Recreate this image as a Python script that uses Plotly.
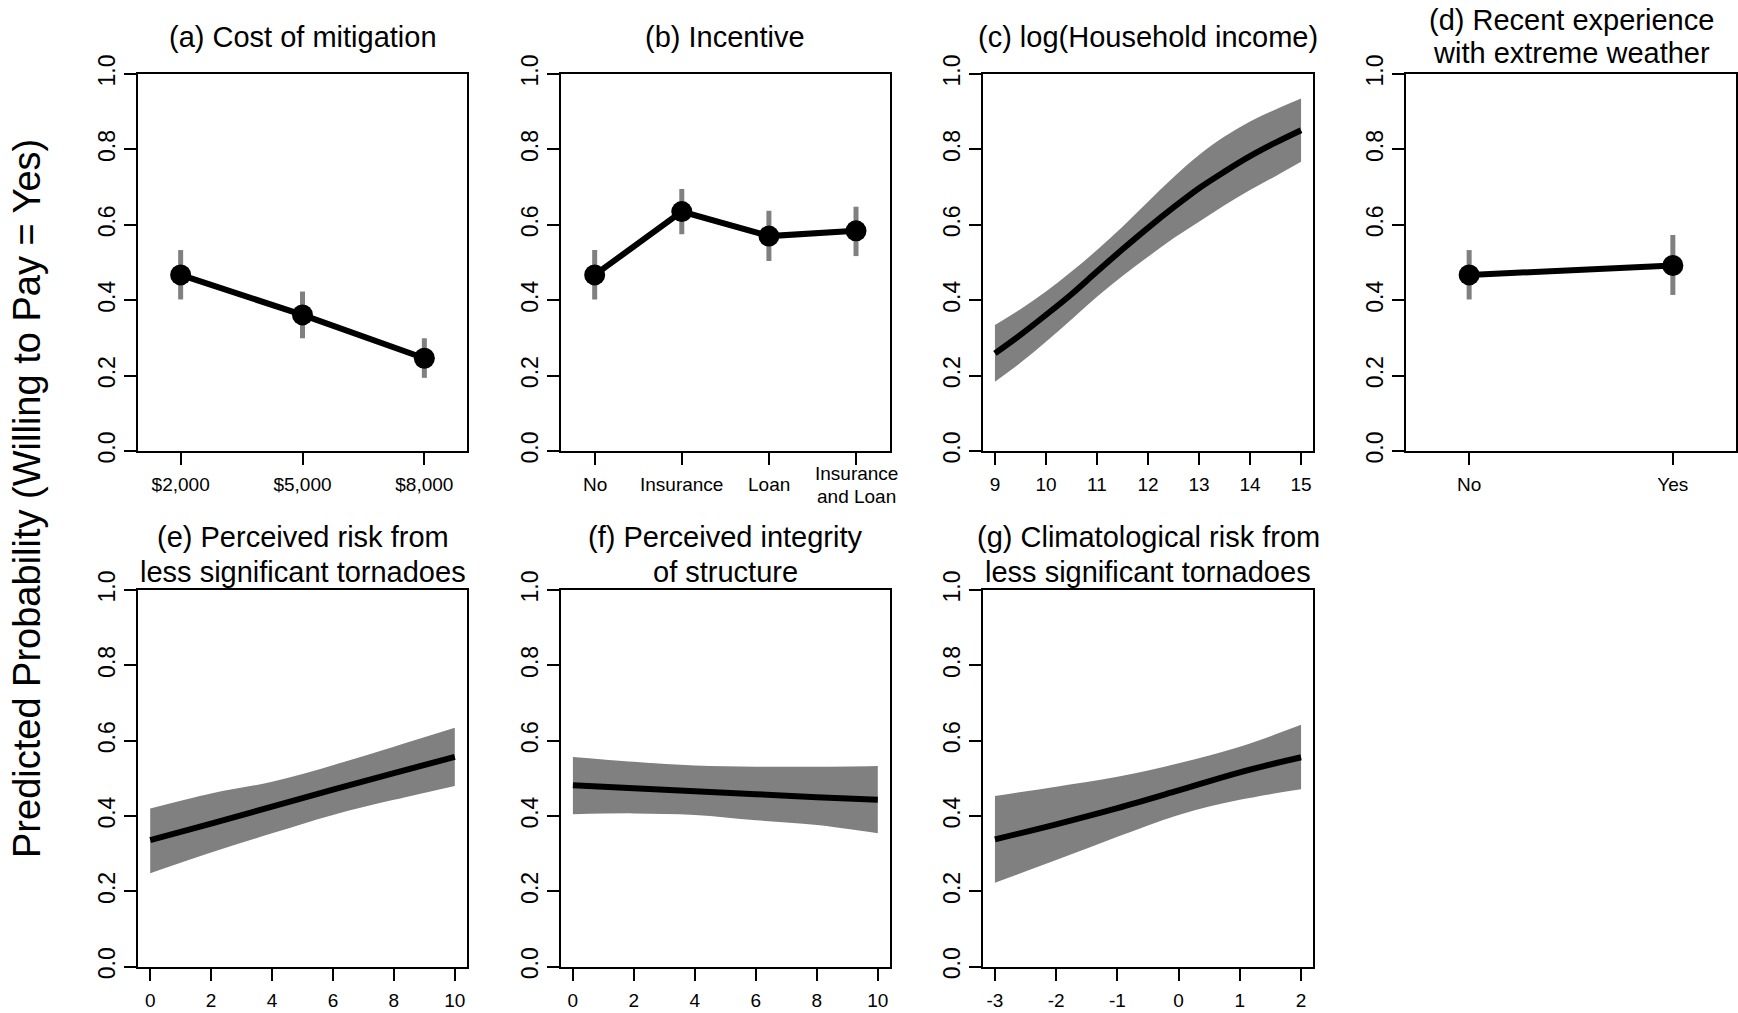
import plotly.graph_objects as go

W, H = 1738, 1013
FONT = "Liberation Sans, Arial, Helvetica, sans-serif"
GRAY = "#808080"

# ---------------- data ----------------
# (a) Cost of mitigation
a_labels = ["$2,000", "$5,000", "$8,000"]
a_est = [0.467, 0.361, 0.246]
a_lo = [0.402, 0.299, 0.194]
a_hi = [0.533, 0.423, 0.299]

# (b) Incentive
b_labels = [["No"], ["Insurance"], ["Loan"], ["Insurance", "and Loan"]]
b_est = [0.467, 0.635, 0.570, 0.584]
b_lo = [0.402, 0.575, 0.504, 0.517]
b_hi = [0.533, 0.695, 0.637, 0.648]

# (c) log(Household income)
c_x = [9, 9.5, 10, 10.5, 11, 11.5, 12, 12.5, 13, 13.5, 14, 14.5, 15]
c_est = [0.259, 0.308, 0.361, 0.416, 0.476, 0.535, 0.592, 0.646, 0.697, 0.741, 0.782, 0.818, 0.851]
c_hi = [0.334, 0.376, 0.423, 0.476, 0.533, 0.595, 0.661, 0.726, 0.785, 0.834, 0.874, 0.906, 0.935]
c_lo = [0.184, 0.234, 0.290, 0.349, 0.409, 0.464, 0.515, 0.564, 0.608, 0.652, 0.692, 0.729, 0.767]

# (d) Recent experience with extreme weather
d_labels = ["No", "Yes"]
d_est = [0.467, 0.492]
d_lo = [0.402, 0.414]
d_hi = [0.533, 0.573]

# (e) Perceived risk from less significant tornadoes
e_x = [0, 2, 4, 6, 8, 10]
e_est = [0.336, 0.380, 0.425, 0.470, 0.514, 0.557]
e_hi = [0.420, 0.460, 0.491, 0.535, 0.584, 0.634]
e_lo = [0.248, 0.303, 0.354, 0.403, 0.443, 0.480]

# (f) Perceived integrity of structure
f_x = [0, 2, 4, 6, 8, 10]
f_est = [0.482, 0.474, 0.466, 0.458, 0.450, 0.443]
f_hi = [0.557, 0.544, 0.534, 0.531, 0.531, 0.533]
f_lo = [0.405, 0.407, 0.403, 0.389, 0.376, 0.354]

# (g) Climatological risk from less significant tornadoes
g_x = [-3, -2, -1, 0, 1, 2]
g_labels = ["-3", "-2", "-1", "0", "1", "2"]
g_est = [0.338, 0.378, 0.421, 0.468, 0.516, 0.556]
g_hi = [0.453, 0.478, 0.504, 0.540, 0.584, 0.642]
g_lo = [0.223, 0.283, 0.345, 0.403, 0.443, 0.471]

titles = [
    ["(a) Cost of mitigation"],
    ["(b) Incentive"],
    ["(c) log(Household income)"],
    ["(d) Recent experience", "with extreme weather"],
    ["(e) Perceived risk from", "less significant tornadoes"],
    ["(f) Perceived integrity", "of structure"],
    ["(g) Climatological risk from", "less significant tornadoes"],
]
y_title = "Predicted Probability (Willing to Pay = Yes)"
y_ticks = [0.0, 0.2, 0.4, 0.6, 0.8, 1.0]

# ---------------- layout geometry (pixels) ----------------
cols = [(138, 467), (560.7, 890), (982.7, 1313.3), (1406, 1736)]
rows = [(74, 451), (590, 966.7)]
cells = [(0, 0), (0, 1), (0, 2), (0, 3), (1, 0), (1, 1), (1, 2)]
xranges = [[0.65, 3.35], [0.61, 4.39], [8.76, 15.24], [0.69, 2.31],
           [-0.4, 10.4], [-0.4, 10.4], [-3.2, 2.2]]


def px(p):
    return p / W


def py(p):
    return 1 - p / H


fig = go.Figure()
layout = dict(template="none", width=W, height=H,
              margin=dict(l=0, r=0, t=0, b=0, pad=0, autoexpand=False),
              paper_bgcolor="white", plot_bgcolor="white", showlegend=False,
              font=dict(family=FONT, color="black"))

for i, (r, c) in enumerate(cells):
    n = "" if i == 0 else str(i + 1)
    x0, x1 = cols[c]
    y0, y1 = rows[r]
    common = dict(showline=True, mirror=True, linecolor="black", linewidth=2,
                  ticks="outside", ticklen=12, tickwidth=2, tickcolor="black",
                  showgrid=False, zeroline=False, fixedrange=True, automargin=False)
    xa = dict(common, domain=[px(x0), px(x1)], range=xranges[i], anchor="y" + n,
              ticklabelstandoff=3,
              tickfont=dict(size=19, family=FONT, color="black"))
    ya = dict(common, domain=[py(y1), py(y0)], range=[0, 1], anchor="x" + n,
              tickvals=y_ticks, ticktext=["%.1f" % v for v in y_ticks],
              tickangle=-90, tickfont=dict(size=23, family=FONT, color="black"))
    layout["xaxis" + n] = xa
    layout["yaxis" + n] = ya

# categorical tick labels
layout["xaxis"].update(tickvals=[1, 2, 3], ticktext=a_labels)
layout["xaxis2"].update(tickvals=[1, 2, 3, 4], showticklabels=False)
layout["xaxis3"].update(tickvals=list(range(9, 16)))
layout["xaxis4"].update(tickvals=[1, 2], ticktext=d_labels)
layout["xaxis5"].update(tickvals=[0, 2, 4, 6, 8, 10])
layout["xaxis6"].update(tickvals=[0, 2, 4, 6, 8, 10])
layout["xaxis7"].update(tickvals=g_x, ticktext=g_labels)


def point_panel(k, est, lo, hi):
    n = "" if k == 1 else str(k)
    xs = list(range(1, len(est) + 1))
    fig.add_trace(go.Scatter(
        x=xs, y=est, mode="markers", marker=dict(size=1, color="rgba(0,0,0,0)"),
        error_y=dict(type="data", symmetric=False,
                     array=[h - e for h, e in zip(hi, est)],
                     arrayminus=[e - l for e, l in zip(est, lo)],
                     color=GRAY, thickness=5, width=0),
        xaxis="x" + n, yaxis="y" + n, hoverinfo="skip"))
    fig.add_trace(go.Scatter(
        x=xs, y=est, mode="lines+markers",
        line=dict(color="black", width=6),
        marker=dict(size=21, color="black"),
        xaxis="x" + n, yaxis="y" + n))


def band_panel(k, xs, est, lo, hi):
    n = "" if k == 1 else str(k)
    fig.add_trace(go.Scatter(x=xs, y=lo, mode="lines", line=dict(width=0, shape="spline"),
                             xaxis="x" + n, yaxis="y" + n, hoverinfo="skip"))
    fig.add_trace(go.Scatter(x=xs, y=hi, mode="lines", line=dict(width=0, shape="spline"),
                             fill="tonexty", fillcolor=GRAY,
                             xaxis="x" + n, yaxis="y" + n, hoverinfo="skip"))
    fig.add_trace(go.Scatter(x=xs, y=est, mode="lines",
                             line=dict(color="black", width=6, shape="spline"),
                             xaxis="x" + n, yaxis="y" + n))


point_panel(1, a_est, a_lo, a_hi)
point_panel(2, b_est, b_lo, b_hi)
band_panel(3, c_x, c_est, c_lo, c_hi)
point_panel(4, d_est, d_lo, d_hi)
band_panel(5, e_x, e_est, e_lo, e_hi)
band_panel(6, f_x, f_est, f_lo, f_hi)
band_panel(7, g_x, g_est, g_lo, g_hi)

annotations = []
# title line centres (pixels)
single_center = {0: 37, 1: 555}
double_centers = {0: (20, 53.5), 1: (537, 572)}
for i, (r, c) in enumerate(cells):
    x0, x1 = cols[c]
    lines = titles[i]
    ys = [single_center[r]] if len(lines) == 1 else list(double_centers[r])
    for txt, yc in zip(lines, ys):
        annotations.append(dict(text=txt, xref="paper", yref="paper",
                                x=px((x0 + x1) / 2), y=py(yc),
                                xanchor="center", yanchor="middle", showarrow=False,
                                font=dict(size=29, family=FONT, color="black")))

# panel (b) category labels (two-line label centred like the others)
for k, lab in enumerate(b_labels):
    ys = [485] if len(lab) == 1 else [473, 496]
    for txt, yc in zip(lab, ys):
        annotations.append(dict(text=txt, xref="x2", yref="paper",
                                x=k + 1, y=py(yc), xanchor="center", yanchor="middle",
                                showarrow=False,
                                font=dict(size=19, family=FONT, color="black")))

annotations.append(dict(text=y_title, xref="paper", yref="paper",
                        x=px(27), y=py(499), textangle=-90,
                        xanchor="center", yanchor="middle", showarrow=False,
                        font=dict(size=38, family=FONT, color="black")))
layout["annotations"] = annotations

fig.update_layout(**layout)
fig.write_html("out.html")
